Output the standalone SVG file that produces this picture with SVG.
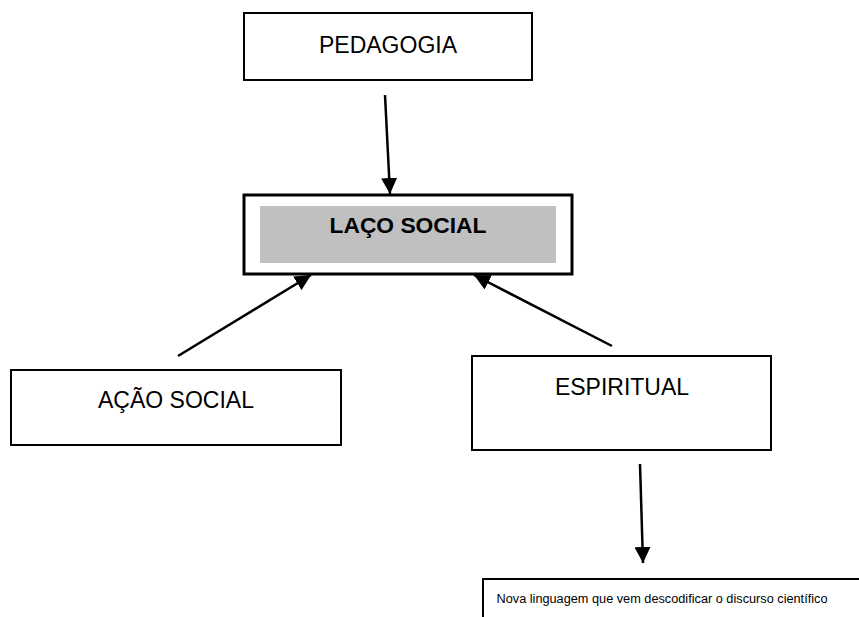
<svg xmlns="http://www.w3.org/2000/svg" width="859" height="617" viewBox="0 0 859 617">
<style>
.box{fill:#fff;stroke:#000;stroke-width:2}
.t{font-family:"Liberation Sans",Arial,sans-serif;fill:#000;text-anchor:middle}
.c{stroke:#000;stroke-width:2.5;fill:none;marker-end:url(#ah)}
</style>
<defs>
<marker id="ah" viewBox="0 0 10 10" refX="10" refY="5" markerWidth="6.4" markerHeight="6.4" markerUnits="strokeWidth" orient="auto">
<path d="M0,0 L10,5 L0,10 z" fill="#000"/>
</marker>
</defs>
<rect width="859" height="617" fill="#fff"/>
<g id="pedagogia">
<rect class="box" x="244" y="13" width="288" height="67"/>
<text class="t" x="388" y="53" font-size="23">PEDAGOGIA</text>
</g>
<g id="laco-social">
<rect x="244" y="195" width="328" height="79" fill="#fff" stroke="#000" stroke-width="3"/>
<rect x="260" y="206" width="296" height="57" fill="#c0c0c0"/>
<text class="t" x="408" y="233" font-size="22" font-weight="bold" textLength="157" lengthAdjust="spacingAndGlyphs">LAÇO SOCIAL</text>
</g>
<g id="acao-social">
<rect class="box" x="11" y="370" width="330" height="75"/>
<text class="t" x="176" y="408" font-size="23">AÇÃO SOCIAL</text>
</g>
<g id="espiritual">
<rect class="box" x="472" y="356" width="299" height="94"/>
<text class="t" x="622" y="395" font-size="23">ESPIRITUAL</text>
</g>
<g id="nova-linguagem">
<path d="M483,617 V579 H859" fill="none" stroke="#000" stroke-width="2"/>
<text class="t" x="662" y="603" font-size="12" textLength="331" lengthAdjust="spacingAndGlyphs">Nova linguagem que vem descodificar o discurso científico</text>
</g>
<g id="connectors">
<line class="c" x1="385" y1="95" x2="390" y2="194"/>
<line class="c" x1="178" y1="356" x2="311" y2="275"/>
<line class="c" x1="612" y1="346" x2="474" y2="275"/>
<line class="c" x1="640" y1="464" x2="643" y2="563"/>
</g>
</svg>
